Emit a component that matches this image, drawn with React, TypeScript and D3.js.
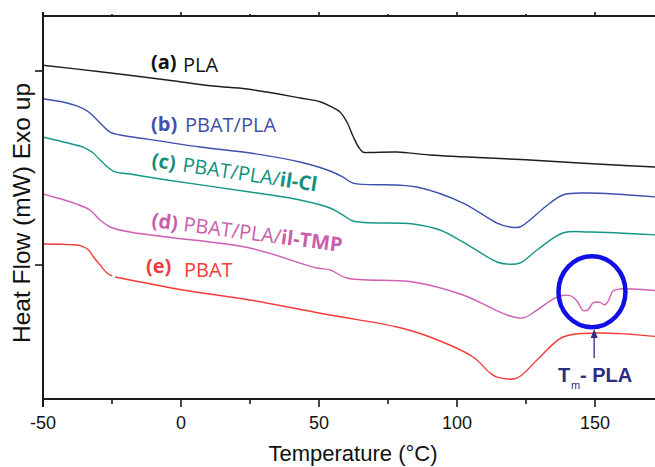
import React from "react";
import * as d3 from "d3";

// Temperature (°C), heat flow (arbitrary mW offset units)
const plaCurve: [number, number | null][] = [
  [-50, 0.059], [-29.3, -0.007], [-5.1, -0.093], [11.6, -0.155], [23.9, -0.186],
  [43.1, -0.278], [50.4, -0.317], [54.0, -0.361], [57.6, -0.423], [60.1, -0.526],
  [62.3, -0.67], [64.1, -0.773], [65.9, -0.835], [68.5, -0.84], [78.3, -0.835],
  [90.2, -0.866], [126.4, -0.918], [150.7, -0.959], [175, -0.995],
];
const pbatPlaCurve: [number, number | null][] = [
  [-50, -0.286], [-41.3, -0.33], [-36.0, -0.38], [-33.0, -0.433], [-29.3, -0.536],
  [-25.7, -0.629], [-22.1, -0.66], [-17.4, -0.68], [6.9, -0.784], [25.0, -0.845],
  [43.1, -0.938], [54.0, -1.031], [58.7, -1.093], [62.3, -1.155], [78.3, -1.175],
  [85.5, -1.196], [102.2, -1.361], [114.5, -1.567], [119.2, -1.608], [122.8, -1.608],
  [126.4, -1.536], [131.9, -1.402], [138.4, -1.278], [147.1, -1.258], [175, -1.305],
];
const ilClCurve: [number, number | null][] = [
  [-50, -0.68], [-38.5, -0.76], [-35.5, -0.784], [-32.0, -0.84], [-29.3, -0.918],
  [-24.6, -1.031], [-18.5, -1.062], [-5.1, -1.124], [25.0, -1.247], [43.1, -1.33],
  [54.0, -1.412], [58.7, -1.485], [62.3, -1.546], [84.1, -1.577], [93.8, -1.639],
  [102.2, -1.763], [114.5, -1.969], [118.1, -1.99], [122.8, -1.979], [129.0, -1.845],
  [138.4, -1.67], [148.2, -1.66], [175, -1.695],
];
const ilTmpCurve: [number, number | null][] = [
  [-50, -1.268], [-38.0, -1.37], [-33.0, -1.433], [-29.3, -1.536], [-25.7, -1.608],
  [-18.5, -1.66], [-5.1, -1.711], [25.0, -1.825], [49.3, -2.031], [54.0, -2.05],
  [60.1, -2.134], [84.1, -2.175], [102.2, -2.309], [118.1, -2.515], [123.9, -2.546],
  [129.0, -2.464], [136.2, -2.33], [140.9, -2.315], [143.5, -2.37], [145.7, -2.47],
  [147.5, -2.46], [149.3, -2.39], [151.8, -2.385], [153.6, -2.41], [155.0, -2.36],
  [156.5, -2.268], [159.1, -2.247], [175, -2.27],
];
const pbatCurve: [number, number | null][] = [
  [-50, -1.784], [-40.0, -1.79], [-36.0, -1.805], [-33.5, -1.845], [-31.5, -1.925],
  [-29.3, -2.0], [-26.8, -2.082], [-25.0, -2.113], [-24.5, null], [-23.9, -2.124],
  [0.7, -2.258], [25.0, -2.361], [54.0, -2.515], [78.3, -2.639], [90.2, -2.742],
  [105.8, -2.948], [112.0, -3.113], [114.5, -3.155], [121.7, -3.165], [129.0, -2.979],
  [138.4, -2.742], [150.7, -2.701], [160.9, -2.71], [175, -2.745],
];

const xMajorTicks = [-50, 0, 50, 100, 150];
const xMinorTicks = [-25, 25, 75, 125, 175];
const xTickLabels = ["-50", "0", "50", "100", "150"];
const yTicks = [0, -2];

const seriesColors = ["#1e1e1e", "#3d50ad", "#17978a", "#cf5fb3", "#f53b3b"];

export default function App() {
  const W = 655, H = 467;
  const x = d3.scaleLinear().domain([-50, 175]).range([43, 664]);
  const y = d3.scaleLinear().domain([-3.381, 0.567]).range([399, 16]);
  const line = d3
    .line<[number, number | null]>()
    .defined((d) => d[1] !== null)
    .x((d) => x(d[0]))
    .y((d) => y(d[1] as number))
    .curve(d3.curveCatmullRom.alpha(0.5));

  const series = [plaCurve, pbatPlaCurve, ilClCurve, ilTmpCurve, pbatCurve];
  const axisColor = "#1a1a1a";
  const lf = "'Open Sans', sans-serif";
  const af = "'Liberation Sans', Arial, sans-serif";

  return (
    <svg width={W} height={H} style={{ position: "absolute", left: 0, top: 0, background: "#fff" }}>
      <rect width={W} height={H} fill="#fff" />
      {/* curves */}
      {series.map((s, i) => (
        <path key={i} d={line(s) || ""} fill="none" stroke={seriesColors[i]} strokeWidth={1.4} />
      ))}

      {/* axes */}
      <line x1={x(-50)} x2={x(175)} y1={399} y2={399} stroke={axisColor} strokeWidth={2} />
      <line x1={x(-50)} x2={x(175)} y1={16} y2={16} stroke={axisColor} strokeWidth={2} />
      <line x1={x(-50)} x2={x(-50)} y1={12} y2={407} stroke={axisColor} strokeWidth={2} />
      {xMajorTicks.map((t) => (
        <g key={"M" + t}>
          <line x1={x(t)} x2={x(t)} y1={399} y2={407} stroke={axisColor} strokeWidth={1.6} />
          <line x1={x(t)} x2={x(t)} y1={16} y2={12} stroke={axisColor} strokeWidth={1.6} />
        </g>
      ))}
      {xMinorTicks.map((t) => (
        <g key={"m" + t}>
          <line x1={x(t)} x2={x(t)} y1={399} y2={404} stroke={axisColor} strokeWidth={1.6} />
          <line x1={x(t)} x2={x(t)} y1={16} y2={14} stroke={axisColor} strokeWidth={1.6} />
        </g>
      ))}
      {xMajorTicks.map((t, i) => (
        <text key={"l" + t} x={x(t)} y={429} textAnchor="middle" fontFamily={af} fontSize={18} fill="#111">
          {xTickLabels[i]}
        </text>
      ))}
      {yTicks.map((t) => (
        <line key={"y" + t} x1={35} x2={43} y1={y(t)} y2={y(t)} stroke={axisColor} strokeWidth={1.6} />
      ))}

      {/* axis titles */}
      <text x={353} y={461} textAnchor="middle" fontFamily={af} fontSize={22} fill="#111">
        Temperature (°C)
      </text>
      <text
        transform="translate(30,213) rotate(-90)"
        textAnchor="middle"
        fontFamily={af}
        fontSize={24.5}
        fill="#111"
      >
        Heat Flow (mW) Exo up
      </text>

      {/* curve labels */}
      <text x={151} y={69} fontFamily={lf} fontSize={20} fontWeight="bold" fill="#111">(a)</text>
      <text x={183} y={72} fontFamily={lf} fontSize={20} fill="#111">PLA</text>

      <text x={151} y={131} fontFamily={lf} fontSize={20} fontWeight="bold" fill="#3f51a8">(b)</text>
      <text x={185} y={132} fontFamily={lf} fontSize={20} fill="#3f51a8">PBAT/PLA</text>

      <g transform="rotate(8.5,152,167)">
        <text x={151} y={167} fontFamily={lf} fontSize={20} fontWeight="bold" fill="#13907f">(c)</text>
        <text x={182} y={167} fontFamily={lf} fontSize={20} fill="#13907f">
          PBAT/PLA/<tspan fontWeight="bold">il-Cl</tspan>
        </text>
      </g>

      <g transform="rotate(7.5,152,227)">
        <text x={151} y={227} fontFamily={lf} fontSize={20} fontWeight="bold" fill="#c95eab">(d)</text>
        <text x={183} y={227} fontFamily={lf} fontSize={20} fill="#c95eab">
          PBAT/PLA/<tspan fontWeight="bold">il-TMP</tspan>
        </text>
      </g>

      <text x={146} y={273} fontFamily={lf} fontSize={20} fontWeight="bold" fill="#f03c3c">(e)</text>
      <text x={184} y={277} fontFamily={lf} fontSize={20} fill="#f03c3c">PBAT</text>

      {/* Tm annotation */}
      <ellipse cx={x(148.9)} cy={291.7} rx={33.5} ry={35.5} fill="none" stroke="#1010e6" strokeWidth={4.5} />
      <line x1={x(149.7)} x2={x(149.7)} y1={358} y2={336} stroke="#2c2e7d" strokeWidth={1.3} />
      <polygon
        points={`${x(149.7)},329 ${x(149.7) - 3.5},338 ${x(149.7) + 3.5},338`}
        fill="#2c2e7d"
      />
      <text x={558} y={382} fontFamily={af} fontSize={20} fontWeight="bold" fill="#2c2e7d">T</text>
      <text x={571} y={389} fontFamily={af} fontSize={11} fill="#2c2e7d">m</text>
      <text x={580} y={382} fontFamily={af} fontSize={20} fontWeight="bold" fill="#2c2e7d">- PLA</text>
    </svg>
  );
}
